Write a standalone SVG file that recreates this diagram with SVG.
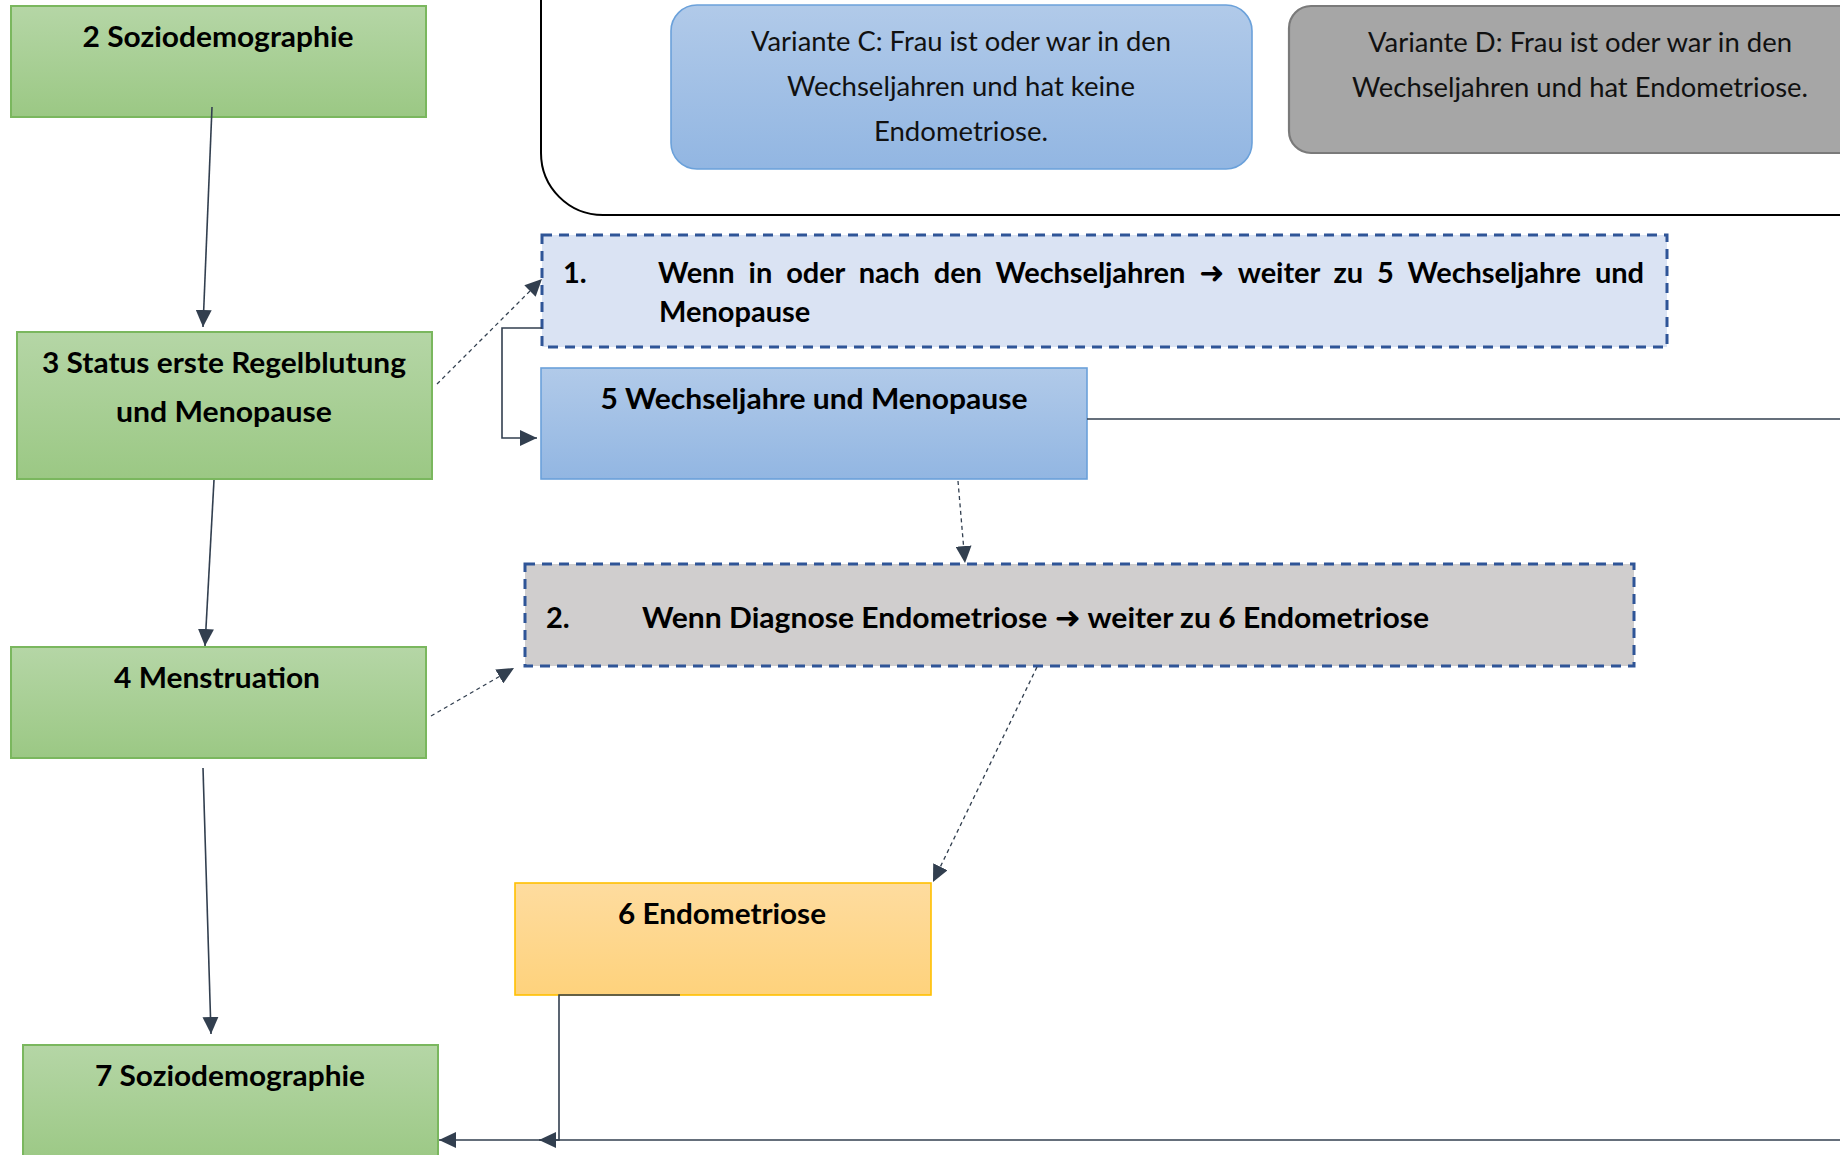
<svg xmlns="http://www.w3.org/2000/svg" width="1840" height="1155" viewBox="0 0 1840 1155">
  <defs>
    <linearGradient id="gGreen" x1="0" y1="0" x2="0" y2="1">
      <stop offset="0" stop-color="#b5d6a6"/>
      <stop offset="1" stop-color="#9bc884"/>
    </linearGradient>
    <linearGradient id="gBlue" x1="0" y1="0" x2="0" y2="1">
      <stop offset="0" stop-color="#b1cae9"/>
      <stop offset="1" stop-color="#92b6e2"/>
    </linearGradient>
    <linearGradient id="gOrange" x1="0" y1="0" x2="0" y2="1">
      <stop offset="0" stop-color="#fedc9f"/>
      <stop offset="1" stop-color="#fed27c"/>
    </linearGradient>
    <marker id="arr" markerUnits="userSpaceOnUse" markerWidth="18" markerHeight="16" refX="17" refY="8" orient="auto">
      <path d="M0,0 L17,8 L0,16 Z" fill="#323f4f"/>
    </marker>
    <style>
      .green { fill: url(#gGreen); stroke: #7ab75e; stroke-width: 2; }
      .blue { fill: url(#gBlue); stroke: #6ba1da; stroke-width: 1.6; }
      .orange { fill: url(#gOrange); stroke: #ffc000; stroke-width: 1.6; }
      .grey { fill: #a6a6a6; stroke: #7a7a7a; stroke-width: 2.2; }
      .dbox { stroke: #2f5597; stroke-width: 3; stroke-dasharray: 10 7; }
      .hd { font-family: Lato, "DejaVu Sans", sans-serif; font-weight: 700; font-size: 29px; fill: #000; }
      .rg { font-family: Lato, "DejaVu Sans", sans-serif; font-weight: 400; font-size: 26px; fill: #111; }
      .ar { font-family: "DejaVu Sans", sans-serif; font-weight: 700; font-size: 30px; }
      .mid { text-anchor: middle; }
      .con { fill: none; stroke: #323f4f; stroke-width: 1.6; }
      .dash { fill: none; stroke: #323f4f; stroke-width: 1.3; stroke-dasharray: 4 3.5; }
    </style>
  </defs>

  <!-- container -->
  <g id="container">
    <path d="M541,-10 V153 A62,62 0 0 0 603,215 H1850" fill="none" stroke="#000" stroke-width="2"/>
  </g>

  <g id="varianteC">
    <rect x="671" y="5" width="581" height="164" rx="26" ry="26" class="blue"/>
    <text class="rg mid" x="961" y="51" textLength="420" lengthAdjust="spacingAndGlyphs">Variante C: Frau ist oder war in den</text>
    <text class="rg mid" x="961" y="96" textLength="348" lengthAdjust="spacingAndGlyphs">Wechseljahren und hat keine</text>
    <text class="rg mid" x="961" y="141" textLength="174" lengthAdjust="spacingAndGlyphs">Endometriose.</text>
  </g>

  <g id="varianteD">
    <rect x="1289" y="6" width="580" height="147" rx="22" ry="22" class="grey"/>
    <text class="rg mid" x="1580" y="52" textLength="424" lengthAdjust="spacingAndGlyphs">Variante D: Frau ist oder war in den</text>
    <text class="rg mid" x="1580" y="97" textLength="456" lengthAdjust="spacingAndGlyphs">Wechseljahren und hat Endometriose.</text>
  </g>

  <g id="n2">
    <rect x="11" y="6" width="415" height="111" class="green"/>
    <text class="hd mid" x="218" y="47" textLength="271" lengthAdjust="spacingAndGlyphs">2 Soziodemographie</text>
  </g>

  <g id="n3">
    <rect x="17" y="332" width="415" height="147" class="green"/>
    <text class="hd mid" x="224" y="373" textLength="364" lengthAdjust="spacingAndGlyphs">3 Status erste Regelblutung</text>
    <text class="hd mid" x="224" y="422" textLength="216" lengthAdjust="spacingAndGlyphs">und Menopause</text>
  </g>

  <g id="n4">
    <rect x="11" y="647" width="415" height="111" class="green"/>
    <text class="hd mid" x="217" y="688" textLength="206" lengthAdjust="spacingAndGlyphs">4 Menstruation</text>
  </g>

  <g id="n7">
    <rect x="23" y="1045" width="415" height="120" class="green"/>
    <text class="hd mid" x="230" y="1086" textLength="270" lengthAdjust="spacingAndGlyphs">7 Soziodemographie</text>
  </g>

  <g id="cond1">
    <rect x="542" y="235" width="1125" height="112" fill="#dae3f3" class="dbox"/>
    <text class="hd" x="563" y="283">1.</text>
    <text class="hd" x="658" y="283" word-spacing="7" textLength="986" lengthAdjust="spacing">Wenn in oder nach den Wechseljahren <tspan class="ar">➜</tspan> weiter zu 5 Wechseljahre und</text>
    <text class="hd" x="659" y="322">Menopause</text>
  </g>

  <g id="n5">
    <rect x="541" y="368" width="546" height="111" class="blue"/>
    <text class="hd mid" x="814" y="409" textLength="427" lengthAdjust="spacingAndGlyphs">5 Wechseljahre und Menopause</text>
  </g>

  <g id="cond2">
    <rect x="525" y="564" width="1109" height="102" fill="#d0cece" class="dbox"/>
    <text class="hd" x="546" y="628">2.</text>
    <text class="hd" x="642" y="628" textLength="787" lengthAdjust="spacingAndGlyphs">Wenn Diagnose Endometriose <tspan class="ar">➜</tspan> weiter zu 6 Endometriose</text>
  </g>

  <g id="n6">
    <rect x="515" y="883" width="416" height="112" class="orange"/>
    <text class="hd mid" x="722" y="924" textLength="208" lengthAdjust="spacingAndGlyphs">6 Endometriose</text>
  </g>

  <g id="connectors">
    <path class="con" d="M212,107 L203,327" marker-end="url(#arr)"/>
    <path class="con" d="M214,480 L205,646" marker-end="url(#arr)"/>
    <path class="con" d="M203,768 L211,1034" marker-end="url(#arr)"/>
    <path class="dash" d="M437,384 L542,279" marker-end="url(#arr)"/>
    <path class="con" d="M542,328 H502 V438 H537" marker-end="url(#arr)"/>
    <path class="con" d="M1087,419 H1845"/>
    <path class="dash" d="M958,481 L965,563" marker-end="url(#arr)"/>
    <path class="dash" d="M431,716 L514,668" marker-end="url(#arr)"/>
    <path class="dash" d="M1037,667 L933,882" marker-end="url(#arr)"/>
    <path class="con" d="M680,995 H559 V1140 H439" marker-end="url(#arr)"/>
    <path class="con" d="M1845,1140 H539" marker-end="url(#arr)"/>
  </g>
</svg>
